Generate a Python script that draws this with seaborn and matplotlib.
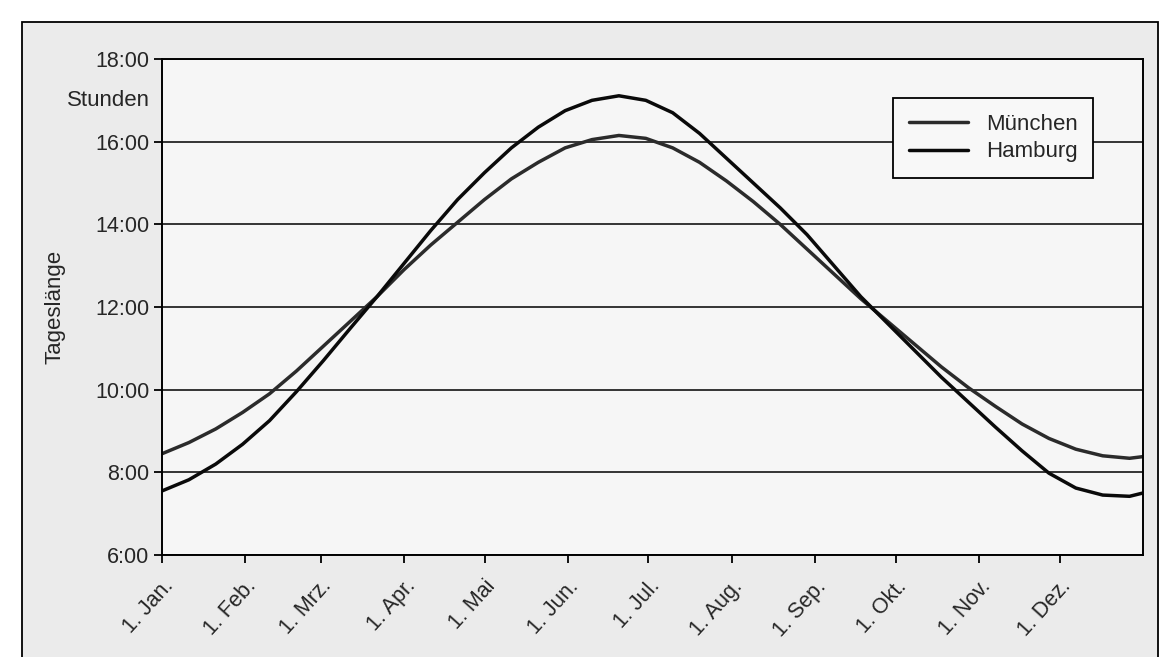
# Tageslänge München / Hamburg
import pandas as pd
import seaborn as sns
import matplotlib.pyplot as plt
from matplotlib.patches import Rectangle

# Tag im Jahr (0 = 1. Jan.)
tage = [0, 10, 20, 30, 40, 50, 60, 70, 80, 90, 100, 110, 120, 130, 140, 150,
        160, 170, 180, 190, 200, 210, 220, 230, 240, 250, 260, 270, 280, 290,
        300, 310, 320, 330, 340, 350, 360, 365]

# Tageslänge in Stunden
muenchen = [8.45, 8.72, 9.05, 9.45, 9.9, 10.45, 11.05, 11.65, 12.25, 12.9,
            13.5, 14.05, 14.6, 15.1, 15.5, 15.85, 16.05, 16.15, 16.08, 15.85,
            15.5, 15.05, 14.55, 14.0, 13.4, 12.8, 12.2, 11.65, 11.1, 10.55,
            10.05, 9.6, 9.17, 8.82, 8.56, 8.4, 8.34, 8.38]
hamburg = [7.55, 7.82, 8.2, 8.68, 9.25, 9.95, 10.7, 11.48, 12.25, 13.05,
           13.85, 14.6, 15.25, 15.85, 16.35, 16.75, 17.0, 17.11, 17.0, 16.7,
           16.2, 15.6, 15.0, 14.4, 13.75, 13.0, 12.25, 11.6, 10.95, 10.3,
           9.7, 9.1, 8.52, 7.98, 7.62, 7.45, 7.42, 7.5]

monate = ["1. Jan.", "1. Feb.", "1. Mrz.", "1. Apr.", "1. Mai", "1. Jun.",
          "1. Jul.", "1. Aug.", "1. Sep.", "1. Okt.", "1. Nov.", "1. Dez."]
monat_tage = [0, 31, 59, 90, 120, 151, 181, 212, 243, 273, 304, 334]
stunden = [6, 8, 10, 12, 14, 16, 18]

df = pd.concat([
    pd.DataFrame({"Tag": tage, "Stunden": muenchen, "Ort": "München"}),
    pd.DataFrame({"Tag": tage, "Stunden": hamburg, "Ort": "Hamburg"}),
])

sns.set_style("white")
plt.rcParams["font.family"] = ["Liberation Sans", "DejaVu Sans"]

fig = plt.figure(figsize=(11.68, 6.57), dpi=100, facecolor="white")

# gescannter Rahmen der Abbildung
rahmen = Rectangle((22 / 1168, -0.05), 1136 / 1168, 1.05 - 22 / 657,
                   transform=fig.transFigure, facecolor="#ebebeb",
                   edgecolor="black", lw=1.3, zorder=-10)
fig.patches.append(rahmen)

ax = fig.add_axes([162 / 1168, 1 - 555 / 657, 981 / 1168, 496 / 657])
ax.set_zorder(1)
ax.set_facecolor("#f6f6f6")

sns.lineplot(data=df, x="Tag", y="Stunden", hue="Ort", ax=ax,
             palette={"München": "#2b2b2b", "Hamburg": "#0a0a0a"}, lw=2.5)

ax.set_xlim(0, 365)
ax.set_ylim(6, 18)
ax.set_yticks(stunden)
ax.set_yticklabels([f"{h}:00" for h in stunden], fontsize=15.5)
ax.set_xticks(monat_tage)
ax.set_xticklabels(monate, rotation=48, ha="right", rotation_mode="anchor",
                   fontsize=15.5)
ax.tick_params(axis="both", direction="out", length=6, width=1.3,
               color="black", left=True, bottom=True)
ax.tick_params(axis="x", pad=9)
ax.tick_params(axis="y", pad=3)

ax.set_axisbelow(True)
ax.yaxis.grid(True, color="black", lw=1.1)
for s in ax.spines.values():
    s.set_color("black")
    s.set_linewidth(1.4)

ax.set_xlabel("")
ax.set_ylabel("Tageslänge", fontsize=16)
ax.yaxis.set_label_coords(-0.098, 0.5)
ax.text(-0.012, 17.0, "Stunden", transform=ax.get_yaxis_transform(),
        ha="right", va="center", fontsize=16)

leg = ax.legend(loc="upper right", bbox_to_anchor=(0.949, 0.921), fontsize=16,
                frameon=True, fancybox=False, handlelength=2.65,
                handletextpad=0.8, labelspacing=0.3, borderpad=0.7,
                borderaxespad=0)
leg.get_frame().set_edgecolor("black")
leg.get_frame().set_linewidth(1.3)
leg.get_frame().set_facecolor("#f8f8f8")
leg.get_frame().set_alpha(1)

plt.savefig("out.png", dpi=100, facecolor=fig.get_facecolor())
